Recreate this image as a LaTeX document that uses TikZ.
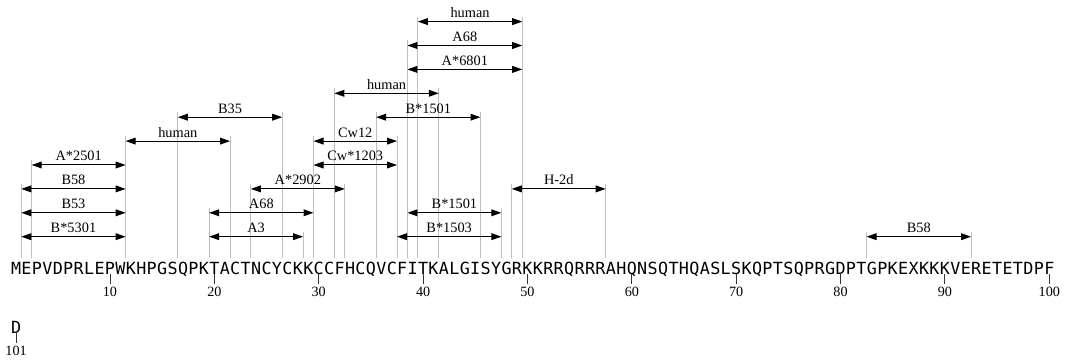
\documentclass[tikz,border=0pt]{standalone}
\usepackage{xcolor}
\usepackage{tikz}
\usepackage{fontspec}
\setmainfont{Liberation Serif}
\newfontfamily\seqfont{DejaVu Sans Mono}
\usetikzlibrary{arrows.meta, positioning}

\newcommand\epitopes{2/11/0/B*5301, 20/28/0/A3, 38/47/0/B*1503, 83/92/0/B58,
    2/11/1/B53, 20/29/1/A68, 39/47/1/B*1501,
    2/11/2/B58, 24/32/2/A*2902, 49/57/2/H-2d,
    3/11/3/A*2501, 30/37/3/Cw*1203,
    12/21/4/human, 30/37/4/Cw12,
    17/26/5/B35, 36/45/5/B*1501,
    32/41/6/human,
    39/49/7/A*6801,
    39/49/8/A68,
    40/49/9/human}

\begin{document}
\begin{tikzpicture}[
    x=10.437bp, y=1bp,
    res-node/.style={anchor=base, inner sep=0pt, font=\seqfont\fontsize{16.8}{20}\selectfont},
    tick-label/.style={inner sep=2.5bp, font=\fontsize{14.2}{16}\selectfont},
    tick-line/.style={draw=black!80, line width=0.9bp},
    epi-line/.style={draw=black!25, line width=0.8bp},
    epi-arrow/.style={draw=black, line width=1bp, {Triangle[length=10bp,width=6.8bp]}-{Triangle[length=10bp,width=6.8bp]}},
    epi-label/.style={anchor=south, inner sep=3.4bp, font=\fontsize{14.4}{16}\selectfont}
]

    \useasboundingbox (-0.539,-89.5) rectangle (101.505,274.5);

    \coordinate (seq-top) at (0,16);

    \foreach \c [count=\i] in {M,E,P,V,D,P,R,L,E,P,W,K,H,P,G,S,Q,P,K,T,
        A,C,T,N,C,Y,C,K,K,C,C,F,H,C,Q,V,C,F,I,T,K,A,L,G,I,S,Y,G,R,K,
        K,R,R,Q,R,R,R,A,H,Q,N,S,Q,T,H,Q,A,S,L,S,K,Q,P,T,S,Q,P,R,G,D,
        P,T,G,P,K,E,X,K,K,K,V,E,R,E,T,E,T,D,P,F}
        \node[res-node] (r\i) at (\i,0) {\c};
    \node[res-node] (r101) at (1,-59) {D};

    \foreach \i in {10,20,...,100,101} {
        \node[tick-label, below=9.5bp of r\i.base, anchor=north] (t\i) {\i};
        \draw[tick-line] (r\i.base) -- (t\i.north);
    }

    \foreach \ea/\eb/\row/\lbl [count=\n] in \epitopes {
        \coordinate (e\n-l) at (\ea-0.5, 37.8+23.9*\row);
        \coordinate (e\n-r) at (\eb+0.5, 37.8+23.9*\row);
        \draw[epi-line] ([yshift=5bp]e\n-l) -- (e\n-l |- seq-top);
        \draw[epi-line] ([yshift=5bp]e\n-r) -- (e\n-r |- seq-top);
    }

    \foreach \ea/\eb/\row/\lbl [count=\n] in \epitopes
        \draw[epi-arrow] (e\n-l) -- (e\n-r) node[midway, epi-label] {\lbl};

\end{tikzpicture}
\end{document}
